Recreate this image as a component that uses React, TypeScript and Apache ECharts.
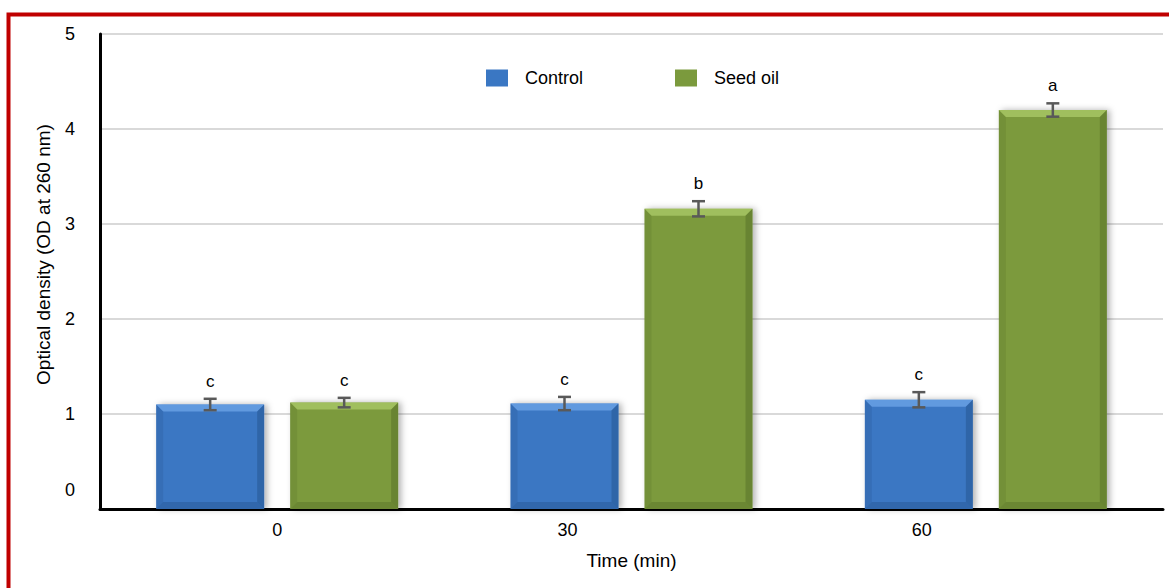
import React, { useEffect, useRef } from "react";
import * as echarts from "echarts";

// Sampling times (min)
const categories = ["0", "30", "60"];

// Mean optical density at 260 nm
const controlValues = [1.1, 1.11, 1.15];
const seedOilValues = [1.12, 3.16, 4.2];

// Error bar half-lengths
const controlErrors = [0.06, 0.07, 0.08];
const seedOilErrors = [0.05, 0.08, 0.07];

// Significance letters
const controlLetters = ["c", "c", "c"];
const seedOilLetters = ["c", "b", "a"];

// Y axis range
const yMin = 0;
const yMax = 5;
const yStep = 1;

const FONT = "'Liberation Sans', Arial, Helvetica, sans-serif";
const BAR_W = 108;
const BAR_GAP = 26;
const HALF_OFFSET = (BAR_W + BAR_GAP) / 2;

const BLUE = { main: "#3a77c3", light: "#6ba3e6", dark: "#1f4a80" };
const GREEN = { main: "#7b9a3d", light: "#a9c866", dark: "#4c6322" };

function makeOverlay(
  values: number[],
  errors: number[],
  letters: string[],
  side: number,
  pal: { main: string; light: string; dark: string }
) {
  return {
    type: "custom",
    silent: true,
    z: 5,
    data: values.map((v, i) => [i, v, errors[i]]),
    renderItem: (params: any, api: any) => {
      const i = api.value(0);
      const v = api.value(1);
      const e = api.value(2);
      const topPt = api.coord([i, v]);
      const basePt = api.coord([i, 0]);
      const x = topPt[0] + side * HALF_OFFSET;
      const y0 = topPt[1];
      const yb = basePt[1];
      const xl = x - BAR_W / 2;
      const xr = x + BAR_W / 2;
      const b = 7;
      const eTop = api.coord([i, v + e])[1];
      const eBot = api.coord([i, v - e])[1];
      const cap = 6.5;
      const errStyle = { stroke: "#595959", lineWidth: 2.5 };
      return {
        type: "group",
        children: [
          // bevel: top highlight
          {
            type: "polygon",
            shape: { points: [[xl, y0], [xr, y0], [xr - b, y0 + b], [xl + b, y0 + b]] },
            style: { fill: pal.light, opacity: 0.8 },
          },
          // bevel: left edge
          {
            type: "polygon",
            shape: { points: [[xl, y0], [xl + b, y0 + b], [xl + b, yb - b], [xl, yb]] },
            style: { fill: pal.dark, opacity: 0.18 },
          },
          // bevel: right edge
          {
            type: "polygon",
            shape: { points: [[xr, y0], [xr - b, y0 + b], [xr - b, yb - b], [xr, yb]] },
            style: { fill: pal.dark, opacity: 0.4 },
          },
          // bevel: bottom edge
          {
            type: "polygon",
            shape: { points: [[xl, yb], [xl + b, yb - b], [xr - b, yb - b], [xr, yb]] },
            style: { fill: pal.dark, opacity: 0.35 },
          },
          // error bar
          { type: "line", shape: { x1: x, y1: eTop, x2: x, y2: eBot }, style: errStyle },
          { type: "line", shape: { x1: x - cap, y1: eTop, x2: x + cap, y2: eTop }, style: errStyle },
          { type: "line", shape: { x1: x - cap, y1: eBot, x2: x + cap, y2: eBot }, style: errStyle },
          // significance letter
          {
            type: "text",
            x: x,
            y: eTop - 9,
            style: {
              text: letters[params.dataIndex],
              fill: "#000",
              font: `17px ${FONT}`,
              align: "center",
              verticalAlign: "bottom",
            },
          },
        ],
      };
    },
  };
}

export default function App() {
  const ref = useRef<HTMLDivElement>(null);

  useEffect(() => {
    if (!ref.current) return;
    const chart = echarts.init(ref.current, undefined, { renderer: "svg" });

    const barShadow = {
      shadowBlur: 6,
      shadowOffsetX: 3,
      shadowOffsetY: 0,
      shadowColor: "rgba(0,0,0,0.3)",
    };

    chart.setOption({
      animation: false,
      backgroundColor: "#fff",
      textStyle: { fontFamily: FONT },
      graphic: [
        {
          type: "rect",
          z: 100,
          silent: true,
          shape: { x: 8.5, y: 14.5, width: 1400, height: 800 },
          style: { fill: "none", stroke: "#c00000", lineWidth: 4 },
        },
      ],
      legend: {
        left: 486,
        top: 69,
        padding: 0,
        itemWidth: 22,
        itemHeight: 17,
        itemGap: 92,
        icon: "rect",
        textStyle: { fontSize: 18, color: "#000", fontFamily: FONT, padding: [0, 0, 0, 12] },
        data: ["Control", "Seed oil"],
      },
      grid: { left: 100, right: 6, top: 34, bottom: 79, containLabel: false },
      xAxis: {
        type: "category",
        data: categories,
        name: "Time (min)",
        nameLocation: "middle",
        nameGap: 42,
        nameTextStyle: { fontSize: 19, color: "#000", fontFamily: FONT },
        axisLine: { show: true, lineStyle: { color: "#000", width: 3 } },
        axisTick: { show: false },
        axisLabel: {
          margin: 12,
          fontSize: 18,
          color: "#000",
          fontFamily: FONT,
          formatter: (v: string) => (v === categories[0] ? v : `{s|${v}}`),
          rich: {
            s: { fontSize: 18, color: "#000", fontFamily: FONT, padding: [0, 128, 0, 0] },
          },
        },
      },
      yAxis: {
        type: "value",
        min: yMin,
        max: yMax,
        interval: yStep,
        name: "Optical density (OD at 260 nm)",
        nameLocation: "middle",
        nameGap: 47,
        nameTextStyle: { fontSize: 19, color: "#000", fontFamily: FONT, padding: [0, 0, 0, 34] },
        axisLine: { show: true, lineStyle: { color: "#000", width: 3 } },
        axisTick: { show: false },
        splitLine: { lineStyle: { color: "#d9d9d9", width: 2 } },
        axisLabel: {
          margin: 25,
          fontSize: 18,
          color: "#000",
          fontFamily: FONT,
          formatter: (v: number) => (v === yMin ? `{z|${v}}` : `${v}`),
          rich: {
            z: { fontSize: 18, color: "#000", fontFamily: FONT, padding: [0, 0, 38, 0] },
          },
        },
      },
      series: [
        {
          name: "Control",
          type: "bar",
          data: controlValues,
          barWidth: BAR_W,
          barGap: `${(BAR_GAP / BAR_W) * 100}%`,
          itemStyle: { color: BLUE.main, ...barShadow },
        },
        {
          name: "Seed oil",
          type: "bar",
          data: seedOilValues,
          barWidth: BAR_W,
          itemStyle: { color: GREEN.main, ...barShadow },
        },
        makeOverlay(controlValues, controlErrors, controlLetters, -1, BLUE),
        makeOverlay(seedOilValues, seedOilErrors, seedOilLetters, 1, GREEN),
      ],
    });

    return () => chart.dispose();
  }, []);

  return (
    <div
      ref={ref}
      style={{ position: "absolute", left: 0, top: 0, width: 1169, height: 588 }}
    />
  );
}
